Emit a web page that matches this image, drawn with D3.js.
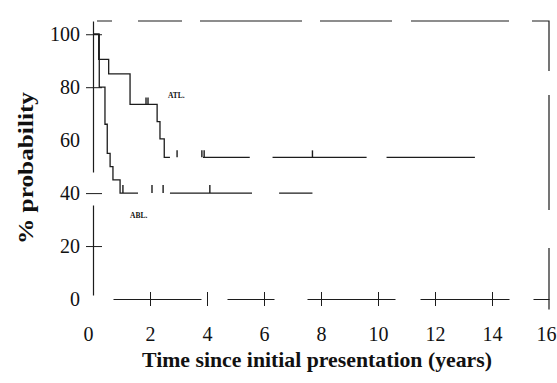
<!DOCTYPE html>
<html>
<head>
<meta charset="utf-8">
<script src="https://cdn.jsdelivr.net/npm/d3@7"></script>
<style>
  html, body { margin: 0; padding: 0; background: #fff; }
  svg { display: block; }
  text { font-family: "Liberation Serif", "DejaVu Serif", serif; fill: #111; }
</style>
</head>
<body>
<div id="chart"></div>
<script>
// survival steps (years, % probability)
const atlTime = [0, 0.2, 0.55, 1.3, 2.25, 2.35, 2.5, 13.4];
const atlSurv = [100, 90.5, 85, 73.5, 67, 60.5, 53.5, 53.5];
const atlCensor = [1.86, 1.93, 2.95, 3.82, 3.9, 7.7];

const ablTime = [0, 0.22, 0.42, 0.5, 0.6, 0.7, 0.95, 7.7];
const ablSurv = [100, 80, 66, 55, 50, 45, 40, 40];
const ablCensor = [1.05, 2.07, 2.46, 4.1];

const xTicks = [0, 2, 4, 6, 8, 10, 12, 14, 16];
const yTicks = [0, 20, 40, 60, 80, 100];

const width = 557, height = 383;

const svg = d3.select("#chart").append("svg")
  .attr("width", width)
  .attr("height", height);

const x = d3.scaleLinear().domain([0, 16]).range([93, 549]);
const y = d3.scaleLinear().domain([0, 105]).range([299, 21]);

const ink = "#1c1c1c";

// frame on top and right (scanned, so it is broken up)
svg.append("path")
  .attr("d", `M${x(0)},${y(105)}H${x(16)}V${y(-4)}`)
  .attr("fill", "none")
  .attr("stroke", ink)
  .attr("stroke-width", 1.2)
  .attr("stroke-dasharray", "0,4,15,26,44,18,102,18,72,19,98,23,67,24,115,38,62");

// axes
const xAxis = svg.append("g")
  .attr("transform", `translate(0,${y(0)})`)
  .call(d3.axisBottom(x).tickValues(xTicks).tickSizeOuter(0).tickSize(0).tickPadding(0));
const yAxis = svg.append("g")
  .attr("transform", `translate(${x(0)},0)`)
  .call(d3.axisLeft(y).tickValues(yTicks).tickSizeOuter(0).tickSize(0).tickPadding(0));

xAxis.select(".domain").attr("stroke", ink).attr("stroke-width", 1.2)
  .attr("stroke-dasharray", "0,20,88,26,47,33,88,25,89,24,16");
yAxis.select(".domain").attr("stroke", ink).attr("stroke-width", 1.2)
  .attr("stroke-dasharray", "0,4,90,33,160");

// ticks cross the axis line
xAxis.selectAll(".tick line").attr("y1", -7).attr("y2", 7).attr("stroke", ink);
yAxis.selectAll(".tick line").attr("x1", -7).attr("x2", 9).attr("stroke", ink);
xAxis.selectAll(".tick").filter(d => d === 0 || d === 16).select("line").remove();
yAxis.selectAll(".tick").filter(d => d === 0 || d === 60).select("line").remove();

xAxis.selectAll(".tick text")
  .attr("y", 42).attr("dy", 0)
  .attr("dx", d => d === 0 ? -5 : d === 16 ? -3 : 0)
  .style("font-size", "20px")
  .style("font-family", "'Liberation Serif', serif");
yAxis.selectAll(".tick text")
  .attr("x", -13).attr("dy", "0.33em")
  .style("font-size", "20px")
  .style("font-family", "'Liberation Serif', serif");

// axis titles
svg.append("text")
  .attr("x", 317).attr("y", 367)
  .attr("text-anchor", "middle")
  .attr("textLength", 350)
  .attr("lengthAdjust", "spacingAndGlyphs")
  .style("font-size", "21px")
  .style("font-weight", "bold")
  .text("Time since initial presentation (years)");

svg.append("text")
  .attr("transform", "translate(33,168) rotate(-90)")
  .attr("text-anchor", "middle")
  .attr("textLength", 152)
  .attr("lengthAdjust", "spacingAndGlyphs")
  .style("font-size", "21px")
  .style("font-weight", "bold")
  .text("% probability");

// survival curves
const line = d3.line()
  .x(d => x(d[0]))
  .y(d => y(d[1]))
  .curve(d3.curveStepAfter);

function drawCurve(times, surv, gaps) {
  const pts = times.map((t, i) => [t, surv[i]]);
  const path = svg.append("path")
    .datum(pts)
    .attr("d", line)
    .attr("fill", "none")
    .attr("stroke", ink)
    .attr("stroke-width", 1.3);
  // scan dropouts on the flat tail
  const total = path.node().getTotalLength();
  const xEnd = x(times[times.length - 1]);
  let pos = 0;
  const dash = [];
  gaps.forEach(g => {
    const a = total - (xEnd - x(g[0]));
    const b = total - (xEnd - x(g[1]));
    dash.push(a - pos, b - a);
    pos = b;
  });
  dash.push(total - pos);
  path.attr("stroke-dasharray", dash.join(","));
}

function drawCensor(times, surv, ticks, h) {
  svg.append("g").selectAll("line")
    .data(ticks)
    .join("line")
    .attr("x1", d => x(d)).attr("x2", d => x(d))
    .attr("y1", d => y(surv[d3.bisectRight(times, d) - 1]))
    .attr("y2", d => y(surv[d3.bisectRight(times, d) - 1]) - h)
    .attr("stroke", ink)
    .attr("stroke-width", 1.4);
}

drawCurve(atlTime, atlSurv, [[2.7, 3.86], [5.5, 6.3], [9.6, 10.3]]);
drawCurve(ablTime, ablSurv, [[1.58, 2.7], [5.58, 6.53]]);
drawCensor(atlTime, atlSurv, atlCensor, 7);
drawCensor(ablTime, ablSurv, ablCensor, 8);

// group labels
svg.append("text")
  .attr("x", x(2.63)).attr("y", y(76))
  .style("font-size", "7.5px").style("font-weight", "bold")
  .text("ATL.");
svg.append("text")
  .attr("x", x(1.3)).attr("y", y(30.5))
  .style("font-size", "7.5px").style("font-weight", "bold")
  .text("ABL.");
</script>
</body>
</html>
